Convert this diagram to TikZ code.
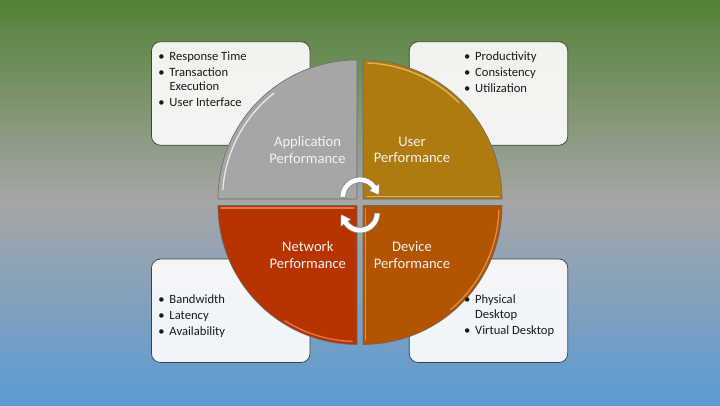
\documentclass[tikz,border=0pt]{standalone}
\usepackage{fontspec}
\setmainfont{Carlito}
\definecolor{bgtop}{HTML}{548235}
\definecolor{bgmid}{HTML}{A6A6A6}
\definecolor{bgbot}{HTML}{5B9BD5}
\definecolor{boxline}{HTML}{404040}
\definecolor{txt}{HTML}{1A1A1A}
\definecolor{qtxt}{HTML}{F2F2F2}
\definecolor{qline}{HTML}{6A6A6A}
\definecolor{arrline}{HTML}{7F7F7F}
\definecolor{qgray}{HTML}{A6A6A6}
\definecolor{qgold}{HTML}{AF7A0F}
\definecolor{qred}{HTML}{B73400}
\definecolor{qorange}{HTML}{B25400}
\definecolor{hlgold}{HTML}{F0CC70}
\definecolor{hlred}{HTML}{F09060}
\definecolor{hlorange}{HTML}{EFA060}
\newcommand\bul{\llap{•\hspace{4.8pt}}}
\begin{document}
\begin{tikzpicture}[x=1pt,y=1pt,
  box/.style={draw=boxline, line width=0.75pt, fill=white, fill opacity=0.9, rounded corners=9pt, minimum width=158.5pt, minimum height=103.5pt, inner sep=0pt},
  itm/.style={anchor=base west, inner sep=0pt, font=\fontsize{12.6}{14}\selectfont, text=txt},
  qlab/.style={align=center, text=qtxt, font=\fontsize{14.6}{16.7}\selectfont, inner sep=0pt},
  quad/.style={draw=qline, line width=0.6pt},
  hl/.style={line width=1.3pt, line cap=round, opacity=0.75},
  carrow/.style={fill=white, draw=arrline, line width=0.5pt}]
\useasboundingbox (0,0) rectangle (720,405);
% background
\shade[top color=bgtop, bottom color=bgmid] (0,203) rectangle (720,405);
\shade[top color=bgmid, bottom color=bgbot] (0,0) rectangle (720,203);
% boxes
\node[box] (boxTL) at (230.75,311.5) {};
\node[box] (boxTR) at (488.5,311.5) {};
\node[box] (boxBL) at (230.75,94.25) {};
\node[box] (boxBR) at (488.5,94.25) {};
% quadrants
\path[quad, fill=qgray] (357,206) -- (218,206) arc[start angle=180, end angle=90, radius=139] -- cycle;
\path[quad, fill=qgold] (363,206) -- (363,345) arc[start angle=90, end angle=0, radius=139] -- cycle;
\path[quad, fill=qred] (357,199.5) -- (218,199.5) arc[start angle=180, end angle=270, radius=139] -- cycle;
\path[quad, fill=qorange] (363,199.5) -- (502,199.5) arc[start angle=0, end angle=-90, radius=139] -- cycle;
% highlights
\draw[hl, white] (357,206) ++(176:134.5) arc[start angle=176, end angle=128, radius=134.5];
\draw[hl, hlgold] (363,206) ++(88:136) arc[start angle=88, end angle=45, radius=136];
\draw[hl, hlgold] (367,208.5) -- (499,208.5);
\draw[hl, hlred] (221,197) -- (354,197);
\draw[hl, hlred] (357,199.5) ++(238:136) arc[start angle=238, end angle=268, radius=136];
\draw[hl, hlorange] (365.5,196) -- (365.5,65);
\draw[hl, hlorange] (363,199.5) ++(-2:136) arc[start angle=-2, end angle=-50, radius=136];
% quadrant labels
\node[qlab] (lapp) at (307.5,255) {Application\\Performance};
\node[qlab] (luser) at (412,255) {User\\Performance};
\node[qlab] (lnet) at (307.8,150.3) {Network\\Performance};
\node[qlab] (ldev) at (412,150.3) {Device\\Performance};
% circular arrows
\begin{scope}[shift={(360,208)}]
\path[carrow] (180:20) arc[start angle=180, end angle=35, radius=20] -- (35:23.5) -- (6:19) -- (35:11) -- (35:14.5) arc[start angle=35, end angle=180, radius=14.5] -- cycle;
\end{scope}
\begin{scope}[shift={(360,192)}]
\path[carrow] (0:20) arc[start angle=0, end angle=-145, radius=20] -- (-145:23.5) -- (-176:19) -- (-145:11) -- (-145:14.5) arc[start angle=-145, end angle=0, radius=14.5] -- cycle;
\end{scope}
% box texts
\node[itm] (tl1) at (169.3,344.3) {\bul Response Time};
\node[itm] (tl2) at (169.3,328.3) {\bul Transaction};
\node[itm] (tl3) at (169.3,314.3) {Execution};
\node[itm] (tl4) at (169.3,298.3) {\bul User Interface};
\node[itm] (tr1) at (475,344.3) {\bul Productivity};
\node[itm] (tr2) at (475,328.3) {\bul Consistency};
\node[itm] (tr3) at (475,312.3) {\bul Utilization};
\node[itm] (bl1) at (169.3,101.7) {\bul Bandwidth};
\node[itm] (bl2) at (169.3,85.3) {\bul Latency};
\node[itm] (bl3) at (169.3,69.3) {\bul Availability};
\node[itm] (br1) at (475,101.7) {\bul Physical};
\node[itm] (br2) at (475,87) {Desktop};
\node[itm] (br3) at (475,71) {\bul Virtual Desktop};
\end{tikzpicture}
\end{document}
